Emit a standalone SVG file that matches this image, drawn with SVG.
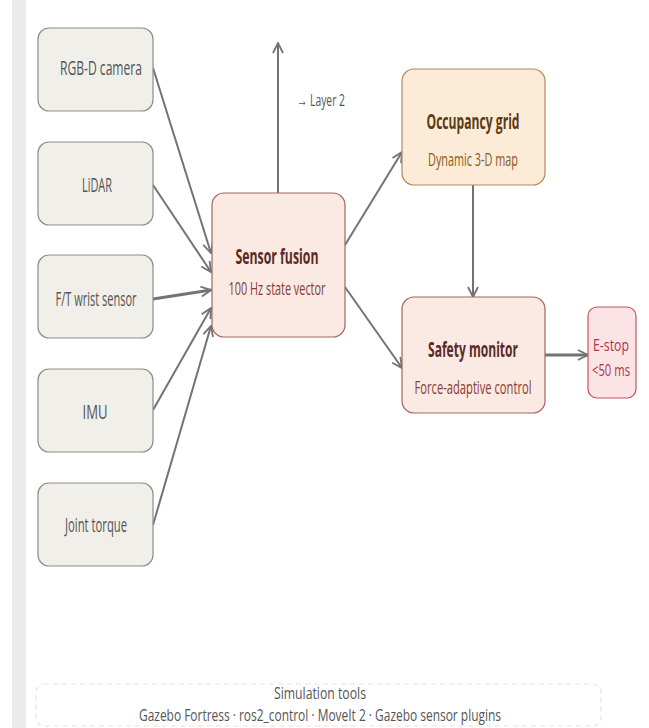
<svg xmlns="http://www.w3.org/2000/svg" width="649" height="728" viewBox="0 0 649 728">
<style>
text{font-family:"Open Sans","Noto Sans","Liberation Sans",sans-serif;text-anchor:middle;}
.in rect{fill:#f1efe9;stroke:#8f8d86;stroke-width:1.2;}
.in text{font-size:20px;fill:#555;}
.sf rect{fill:#fbe9e3;stroke:#a0685e;stroke-width:1.2;}
.sf .t{font-size:21px;font-weight:bold;fill:#5a2b22;}
.sf .s{font-size:19px;fill:#8a3e30;}
.og rect{fill:#fbebd7;stroke:#b38a5c;stroke-width:1.2;}
.og .t{font-size:21px;font-weight:bold;fill:#5c3b12;}
.og .s{font-size:19px;fill:#8a5a20;}
.es rect{fill:#fce3e5;stroke:#c25560;stroke-width:1.2;}
.es text{font-size:16px;fill:#a83845;}
.edge{fill:none;stroke:#737373;stroke-width:2;marker-end:url(#ah);}
.thick{stroke-width:3;}
.lbl{font-size:17px;fill:#555;}
.ft{font-size:16px;fill:#555;}
</style>
<defs>
<marker id="ah" viewBox="0 0 12 12" refX="11" refY="6" markerWidth="12" markerHeight="12" markerUnits="userSpaceOnUse" orient="auto">
<path d="M1,1 L11,6 L1,11" fill="none" stroke="#737373" stroke-width="1.8"/>
</marker>
</defs>
<rect x="0" y="0" width="649" height="728" fill="#ffffff"/>
<rect x="12" y="0" width="14" height="728" fill="#ebebeb"/>

<g id="edges">
<path class="edge" d="M153,68 L211,253"/>
<path class="edge" d="M153,185 L211,272"/>
<path class="edge thick" d="M153,299 L211,290"/>
<path class="edge" d="M153,410 L211,308"/>
<path class="edge" d="M153,525 L211,326"/>
<path class="edge" d="M278,193 L278,43"/>
<path class="edge" d="M345,245 L402,152"/>
<path class="edge" d="M345,287 L402,368"/>
<path class="edge" d="M473,185 L473,297"/>
<path class="edge thick" d="M545,355 L588,355"/>
<text class="lbl" x="321" y="106" textLength="48" lengthAdjust="spacingAndGlyphs">→ Layer 2</text>
</g>

<g id="rgbd" class="in"><rect x="38" y="28" width="115" height="83" rx="11"/><text x="101" y="75" textLength="82" lengthAdjust="spacingAndGlyphs">RGB-D camera</text></g>
<g id="lidar" class="in"><rect x="38" y="142" width="115" height="83" rx="11"/><text x="97" y="192" textLength="30" lengthAdjust="spacingAndGlyphs">LiDAR</text></g>
<g id="ft" class="in"><rect x="38" y="255" width="115" height="83" rx="11"/><text x="96" y="306" textLength="81" lengthAdjust="spacingAndGlyphs">F/T wrist sensor</text></g>
<g id="imu" class="in"><rect x="38" y="369" width="115" height="83" rx="11"/><text x="95" y="419" textLength="25" lengthAdjust="spacingAndGlyphs">IMU</text></g>
<g id="joint" class="in"><rect x="38" y="483" width="115" height="83" rx="11"/><text x="96" y="532" textLength="62" lengthAdjust="spacingAndGlyphs">Joint torque</text></g>

<g id="fusion" class="sf"><rect x="212" y="193" width="133" height="144" rx="12"/><text class="t" x="277" y="264" textLength="83" lengthAdjust="spacingAndGlyphs">Sensor fusion</text><text class="s" x="277" y="295" textLength="97" lengthAdjust="spacingAndGlyphs">100 Hz state vector</text></g>

<g id="occupancy" class="og"><rect x="402" y="69" width="143" height="116" rx="12"/><text class="t" x="473" y="129" textLength="93" lengthAdjust="spacingAndGlyphs">Occupancy grid</text><text class="s" x="473" y="166" textLength="90" lengthAdjust="spacingAndGlyphs">Dynamic 3-D map</text></g>

<g id="safety" class="sf"><rect x="402" y="297" width="143" height="116" rx="12"/><text class="t" x="473" y="357" textLength="90" lengthAdjust="spacingAndGlyphs">Safety monitor</text><text class="s" x="473" y="394" textLength="117" lengthAdjust="spacingAndGlyphs">Force-adaptive control</text></g>

<g id="estop" class="es"><rect x="588" y="307" width="48" height="91" rx="9"/><text x="611" y="351"><tspan x="611" y="351" textLength="36" lengthAdjust="spacingAndGlyphs">E-stop</tspan><tspan x="611" y="376" textLength="38" lengthAdjust="spacingAndGlyphs">&lt;50 ms</tspan></text></g>

<g id="simtools">
<rect x="36" y="684" width="565" height="42" rx="8" fill="#ffffff" stroke="#e4e4e4" stroke-width="1.2" stroke-dasharray="5,4"/>
<text class="ft" x="320" y="699" textLength="92" lengthAdjust="spacingAndGlyphs">Simulation tools</text>
<text class="ft" x="320" y="721" textLength="362" lengthAdjust="spacingAndGlyphs">Gazebo Fortress · ros2_control · MoveIt 2 · Gazebo sensor plugins</text>
</g>
</svg>
